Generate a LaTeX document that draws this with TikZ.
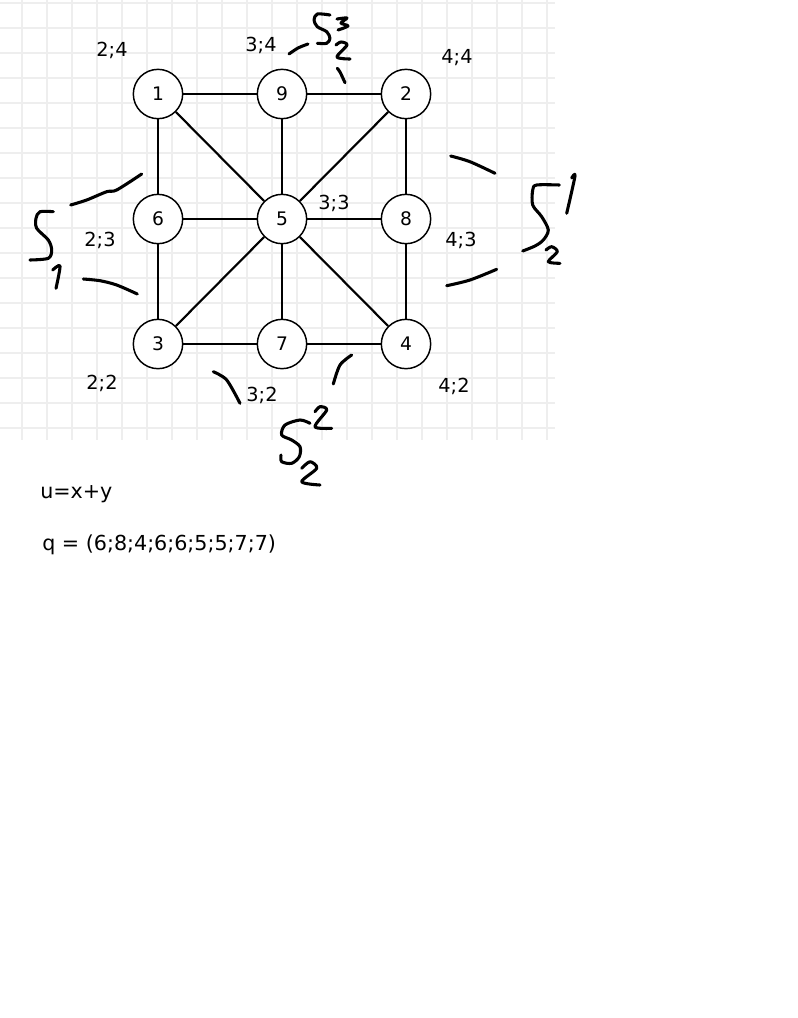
\documentclass[tikz,border=0pt]{standalone}
\usepackage{fontspec}
\setmainfont{DejaVu Sans}
\definecolor{gridc}{RGB}{238,238,238}
\begin{document}
\begin{tikzpicture}[x=0.75pt,y=-0.75pt,
  vert/.style={circle,draw,line width=1.1pt,minimum size=37pt,inner sep=0pt,fill=white,font=\fontsize{14}{16}\selectfont},
  edge/.style={line width=1.6pt},
  lbl/.style={inner sep=0pt,font=\fontsize{14.5}{17}\selectfont},
  txt/.style={inner sep=0pt,anchor=west,font=\fontsize{15.5}{18}\selectfont},
  ink/.style={line width=2.3pt,line cap=round,line join=round}]
\useasboundingbox[fill=white] (0,0) rectangle (798,1018);
% background grid
\foreach \i in {0,...,21} \draw[gridc,line width=1.3pt] ({21.7+25*\i},0) -- ({21.7+25*\i},440);
\foreach \j in {0,...,17} \draw[gridc,line width=1.3pt] (0,{3+25*\j}) -- (555,{3+25*\j});
% vertices
\node[vert] (n1) at (158,94) {1};
\node[vert] (n9) at (282,94) {9};
\node[vert] (n2) at (406,94) {2};
\node[vert] (n6) at (158,219) {6};
\node[vert] (n5) at (282,219) {5};
\node[vert] (n8) at (406,219) {8};
\node[vert] (n3) at (158,344) {3};
\node[vert] (n7) at (282,344) {7};
\node[vert] (n4) at (406,344) {4};
% edges
\foreach \a/\b in {n1/n9,n9/n2,n1/n6,n1/n5,n9/n5,n2/n5,n2/n8,n6/n5,n5/n8,n6/n3,n5/n3,n5/n7,n5/n4,n8/n4,n3/n7,n7/n4}
  \draw[edge] (\a) -- (\b);
% coordinate labels
\node[lbl] (l24) at (112,50) {2;4};
\node[lbl] (l34) at (261,45) {3;4};
\node[lbl] (l44) at (457,58) {4;4};
\node[lbl] (l33) at (334,203) {3;3};
\node[lbl] (l23) at (100,240) {2;3};
\node[lbl] (l43) at (461,240) {4;3};
\node[lbl] (l22) at (102,383) {2;2};
\node[lbl] (l32) at (262,395) {3;2};
\node[lbl] (l42) at (454,386) {4;2};
% hand-drawn S^3_2
\draw[ink] plot[smooth] coordinates {(289,54) (298,48) (308,44)};
\draw[ink] plot[smooth] coordinates {(330,15) (317.3,14) (314,20) (317.3,26.7) (326.7,31.7) (330,38.3) (326.7,43.3) (317.3,43.3)};
\draw[ink] plot[smooth] coordinates {(337,19) (347,18) (341,23) (348,26) (338,30)};
\draw[ink] plot[smooth] coordinates {(336,45) (341,42) (347,45) (337,57) (350,59)};
\draw[ink] plot[smooth] coordinates {(337.3,68.3) (340,72) (345,82.7)};
% hand-drawn S_1
\draw[ink] plot[smooth] coordinates {(70.7,205) (86.7,200) (106.7,191.7) (116.7,190) (141.7,174)};
\draw[ink] plot[smooth] coordinates {(83.3,279) (100,280.7) (116.7,285) (137.3,294)};
\draw[ink] plot[smooth] coordinates {(53.3,211.7) (40,211.7) (36,218.3) (36.7,228.3) (48.3,240) (51.7,250) (48.3,258.3) (30,260)};
\draw[ink] plot[smooth] coordinates {(52.7,270) (60,266) (56,288.3)};
% hand-drawn S^1_2
\draw[ink] plot[smooth] coordinates {(450.7,156) (470,161.7) (495,173.3)};
\draw[ink] plot[smooth] coordinates {(446.7,285.7) (470,280) (496.7,269.3)};
\draw[ink] plot[smooth] coordinates {(559.3,185) (536.7,185) (532.7,190) (532.7,205) (541.7,216.7) (548.3,230) (543.3,240) (535,246) (522.7,251)};
\draw[ink] plot[smooth] coordinates {(571.7,178) (575,176) (566.7,213.3)};
\draw[ink] plot[smooth] coordinates {(546,250) (551.7,246.7) (557.3,251.7) (548.3,261.7) (560,263.3)};
% hand-drawn S^2_2
\draw[ink] plot[smooth] coordinates {(213.3,371.7) (226.7,380) (240,403.3)};
\draw[ink] plot[smooth] coordinates {(351.7,355) (340,365) (333.3,384)};
\draw[ink] plot[smooth] coordinates {(310,423.3) (300,420) (285,425) (281.7,435) (291.7,440) (300,446.7) (299.3,456.7) (291.7,463.3) (281.7,461.7) (281,455)};
\draw[ink] plot[smooth] coordinates {(315,411.7) (320,406.7) (326.7,410) (315,426.7) (331.7,428.3)};
\draw[ink] plot[smooth] coordinates {(301.7,468.3) (310,461.7) (316.7,468.3) (301.7,481.7) (320,485)};
% formulas
\node[txt] (u) at (40,494) {u=x+y};
\node[txt] (q) at (42,545) {q = (6;8;4;6;6;5;5;7;7)};
\end{tikzpicture}
\end{document}
